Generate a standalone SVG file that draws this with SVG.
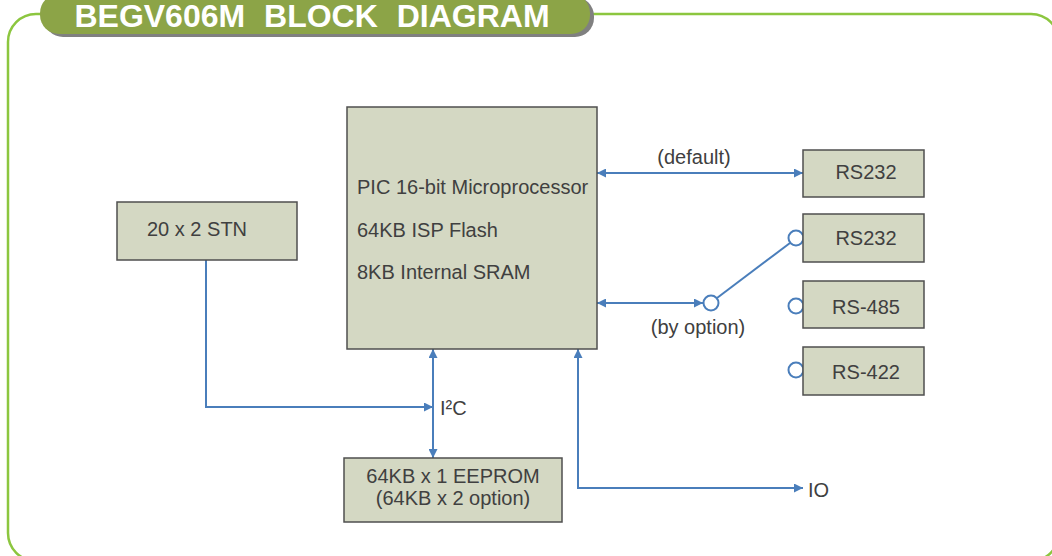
<svg xmlns="http://www.w3.org/2000/svg" width="1052" height="556" viewBox="0 0 1052 556">
<style>
.box{fill:#D4D8C3;stroke:#4F4F4F;stroke-width:1.5}
.t{font-family:"Liberation Sans",Arial,sans-serif;font-size:20px;fill:#404040}
.c{stroke:#4A7EBB;stroke-width:2;fill:none}
.dot{stroke:#4A7EBB;stroke-width:2;fill:#fff}
</style>
<defs>
<marker id="arr" viewBox="0 0 10 10" refX="10" refY="5" markerWidth="10" markerHeight="9" markerUnits="userSpaceOnUse" orient="auto-start-reverse">
<path d="M0,0 L10,5 L0,10 z" fill="#4A7EBB"/>
</marker>
</defs>
<rect width="1052" height="556" fill="#fff"/>
<g id="frame">
<rect x="8" y="14" width="1051" height="547" rx="28" fill="none" stroke="#8CC63F" stroke-width="2.5"/>
<rect x="44" y="-3" width="550" height="40" rx="19" fill="#808080"/>
<rect x="40" y="-6" width="550" height="40" rx="19" fill="#8CA447"/>
<text x="312" y="27" text-anchor="middle" font-family="'Liberation Sans',Arial,sans-serif" font-size="32" font-weight="bold" fill="#fff" word-spacing="10">BEGV606M BLOCK DIAGRAM</text>
</g>
<g id="connectors">
<line class="c" x1="597" y1="173" x2="803" y2="173" marker-start="url(#arr)" marker-end="url(#arr)"/>
<line class="c" x1="597" y1="303" x2="703" y2="303" marker-start="url(#arr)" marker-end="url(#arr)"/>
<line class="c" x1="717" y1="298" x2="790" y2="243"/>
<path class="c" d="M206,260 V407 H433" marker-end="url(#arr)"/>
<line class="c" x1="433" y1="349" x2="433" y2="458" marker-start="url(#arr)" marker-end="url(#arr)"/>
<path class="c" d="M578,349 V488 H803" marker-start="url(#arr)" marker-end="url(#arr)"/>
<circle class="dot" cx="711" cy="303" r="7.5"/>
<circle class="dot" cx="796" cy="238" r="7.5"/>
<circle class="dot" cx="796" cy="306" r="7.5"/>
<circle class="dot" cx="796" cy="370" r="7.5"/>
</g>
<g id="labels">
<text class="t" x="694" y="164" text-anchor="middle">(default)</text>
<text class="t" x="698" y="334" text-anchor="middle">(by option)</text>
<text class="t" x="440" y="415">I²C</text>
<text class="t" x="808" y="497">IO</text>
</g>
<g id="mcu">
<rect class="box" x="347" y="107" width="250" height="242"/>
<text class="t" x="357" y="194">PIC 16-bit Microprocessor</text>
<text class="t" x="357" y="237">64KB ISP Flash</text>
<text class="t" x="357" y="279">8KB Internal SRAM</text>
</g>
<g id="stn">
<rect class="box" x="117" y="202" width="180" height="58"/>
<text class="t" x="147" y="236">20 x 2 STN</text>
</g>
<g id="rs232a">
<rect class="box" x="803" y="150" width="121" height="47"/>
<text class="t" x="866" y="179" text-anchor="middle">RS232</text>
</g>
<g id="rs232b">
<rect class="box" x="803" y="214" width="121" height="48"/>
<text class="t" x="866" y="245" text-anchor="middle">RS232</text>
</g>
<g id="rs485">
<rect class="box" x="803" y="281" width="121" height="47"/>
<text class="t" x="866" y="314" text-anchor="middle">RS-485</text>
</g>
<g id="rs422">
<rect class="box" x="803" y="347" width="121" height="48"/>
<text class="t" x="866" y="379" text-anchor="middle">RS-422</text>
</g>
<g id="eeprom">
<rect class="box" x="344" y="458" width="218" height="64"/>
<text class="t" x="453" y="483" text-anchor="middle">64KB x 1 EEPROM</text>
<text class="t" x="453" y="505" text-anchor="middle">(64KB x 2 option)</text>
</g>
</svg>
